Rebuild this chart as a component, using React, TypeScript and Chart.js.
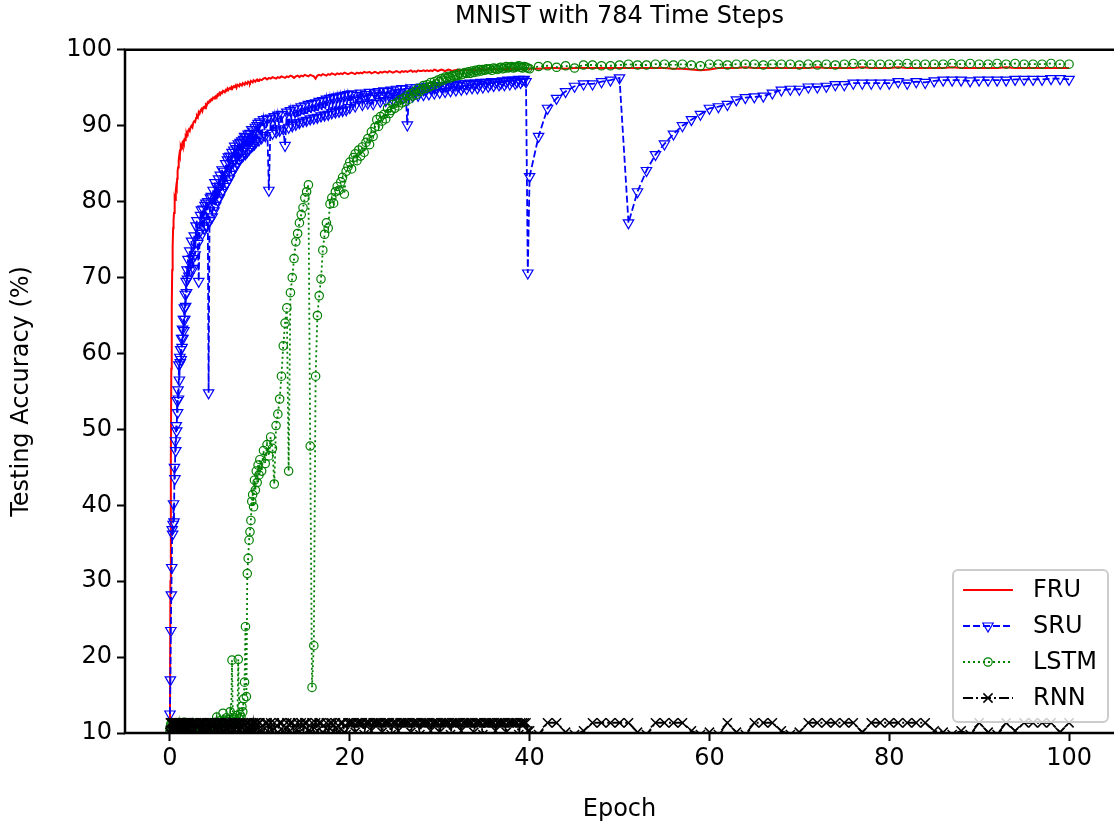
import React, { useEffect, useRef } from "react";
import { Chart, registerables } from "chart.js";

Chart.register(...registerables);

const chartTitle = "MNIST with 784 Time Steps";
const xAxisLabel = "Epoch";
const yAxisLabel = "Testing Accuracy (%)";
const xTickValues = [0, 20, 40, 60, 80, 100];
const yTickValues = [10, 20, 30, 40, 50, 60, 70, 80, 90, 100];
const seriesNames = ["FRU", "SRU", "LSTM", "RNN"];

// evaluation schedule: [first epoch, number of evaluations, epochs between evaluations]
const evalSchedule: number[][] = [
  [0, 40, 0.05],
  [2, 80, 0.1],
  [10, 50, 0.2],
  [20, 100, 0.2],
  [40, 61, 1],
];

const fruAcc = [
  // 0 - 1.95
  11.0, 30.0, 46.0, 58.0, 66.0, 71.0, 74.0, 76.5, 77.5, 78.5,
  79.5, 80.5, 80.2, 81.5, 82.0, 81.8, 83.0, 84.0, 84.5, 85.3,
  85.5, 86.2, 86.0, 86.8, 87.2, 87.0, 87.4, 87.6, 87.3, 87.9,
  88.0, 87.8, 88.2, 88.4, 88.1, 88.6, 88.5, 88.9, 88.7, 89.0,
  // 2 - 9.9
  89.2, 89.5, 89.3, 89.8, 90.0, 89.8, 90.4, 90.6, 90.5, 91.0,
  91.3, 91.1, 91.8, 91.6, 92.0, 92.2, 91.9, 92.4, 92.5, 92.3,
  92.8, 92.7, 93.1, 93.0, 93.3, 93.2, 93.5, 93.4, 93.7, 93.6,
  93.8, 93.9, 93.7, 94.1, 94.0, 94.3, 94.1, 94.4, 94.3, 94.6,
  94.5, 94.4, 94.7, 94.6, 94.9, 94.7, 94.9, 95.0, 94.8, 95.1,
  95.0, 95.2, 95.1, 95.3, 95.0, 95.4, 95.3, 95.2, 95.5, 95.4,
  95.3, 95.6, 95.5, 95.4, 95.7, 95.6, 95.5, 95.8, 95.7, 95.6,
  95.9, 95.8, 95.7, 96.0, 95.9, 95.8, 96.0, 96.1, 95.9, 96.0,
  // 10 - 19.8
  96.1, 96.0, 96.2, 96.3, 96.1, 96.3, 96.2, 96.4, 96.3, 96.2,
  96.4, 96.3, 96.5, 96.4, 96.3, 96.5, 96.4, 96.6, 96.5, 96.3,
  96.5, 96.6, 96.4, 96.6, 96.5, 96.7, 96.6, 96.5, 96.7, 96.6,
  96.5, 96.2, 96.6, 96.7, 96.6, 96.8, 96.7, 96.6, 96.8, 96.7,
  96.9, 96.8, 96.7, 96.9, 96.8, 96.9, 96.8, 97.0, 96.9, 96.8,
  // 20 - 39.8
  96.9, 97.0, 96.9, 96.8, 97.0, 96.9, 97.0, 96.9, 97.1, 97.0,
  97.0, 97.1, 96.9, 97.0, 97.1, 97.0, 96.9, 97.1, 97.0, 97.1,
  97.1, 97.0, 97.2, 97.1, 97.0, 97.1, 97.2, 97.1, 97.0, 97.2,
  97.1, 97.2, 97.1, 97.2, 97.3, 97.1, 97.2, 97.1, 97.3, 97.2,
  97.2, 97.3, 97.2, 97.3, 97.2, 97.3, 97.2, 97.4, 97.3, 97.2,
  97.3, 97.4, 97.3, 97.2, 97.3, 97.4, 97.3, 97.2, 97.3, 97.3,
  97.4, 97.3, 97.3, 97.4, 97.3, 97.4, 97.3, 97.4, 97.4, 97.3,
  97.3, 97.4, 97.4, 97.5, 97.4, 97.3, 97.4, 97.5, 97.4, 97.4,
  97.4, 97.5, 97.4, 97.4, 97.5, 97.4, 97.5, 97.4, 97.5, 97.4,
  97.5, 97.5, 97.4, 97.5, 97.4, 97.5, 97.5, 97.4, 97.5, 97.5,
  // 40 - 100
  97.5, 97.5, 97.6, 97.6, 97.5, 97.6, 97.6, 97.6, 97.6, 97.6,
  97.6, 97.6, 97.6, 97.6, 97.6, 97.6, 97.5, 97.5, 97.4, 97.3,
  97.4, 97.6, 97.6, 97.6, 97.7, 97.6, 97.6, 97.6, 97.6, 97.6,
  97.6, 97.6, 97.7, 97.6, 97.6, 97.6, 97.6, 97.7, 97.6, 97.6,
  97.6, 97.7, 97.6, 97.6, 97.6, 97.6, 97.6, 97.7, 97.6, 97.6,
  97.6, 97.6, 97.6, 97.7, 97.6, 97.6, 97.6, 97.6, 97.6, 97.6,
  97.6,
];

const sruAcc = [
  // 0 - 1.95
  12.5, 17.0, 23.5, 28.2, 31.8, 36.8, 36.2, 37.5, 40.2, 37.8,
  45.0, 43.5, 48.5, 47.2, 50.5, 49.8, 53.8, 52.2, 55.2, 54.0,
  58.5, 56.5, 59.5, 58.8, 60.5, 59.2, 62.0, 60.8, 63.2, 62.0,
  64.5, 63.0, 66.0, 64.5, 67.8, 66.2, 69.5, 68.0, 71.0, 69.8,
  // 2 - 9.9
  72.4, 70.2, 73.5, 71.0, 74.8, 72.5, 71.2, 75.5, 73.0, 76.8,
  77.5, 74.5, 69.5, 76.0, 78.2, 78.9, 75.8, 79.0, 76.5, 79.5,
  79.8, 76.8, 80.0, 54.8, 77.5, 80.5, 80.7, 78.0, 81.5, 78.8,
  82.5, 79.5, 82.0, 80.2, 83.0, 80.5, 83.5, 81.2, 84.2, 81.5,
  84.0, 82.0, 85.0, 82.4, 85.5, 85.9, 83.0, 86.0, 83.6, 86.5,
  84.2, 86.8, 87.3, 84.6, 87.0, 85.0, 87.6, 85.5, 87.8, 85.8,
  88.0, 86.0, 88.2, 88.6, 86.3, 88.5, 86.6, 88.9, 86.9, 89.0,
  87.2, 89.5, 87.4, 89.3, 87.6, 89.8, 87.9, 90.0, 90.3, 88.1,
  // 10 - 19.8
  90.5, 88.4, 90.8, 88.7, 90.9, 81.5, 91.0, 89.0, 91.2, 89.2,
  91.4, 89.4, 91.5, 89.6, 87.4, 91.8, 89.8, 92.0, 90.0, 92.2,
  90.2, 92.3, 90.4, 92.5, 90.6, 92.6, 90.7, 92.8, 90.9, 92.9,
  91.0, 93.0, 91.1, 93.2, 91.3, 93.3, 91.4, 93.5, 91.5, 93.6,
  91.7, 93.7, 91.8, 93.8, 91.9, 93.9, 92.0, 94.0, 92.1, 94.1,
  // 20 - 39.8
  92.4, 94.2, 93.3, 92.6, 94.0, 93.5, 94.3, 92.8, 93.8, 94.1,
  93.0, 94.4, 93.6, 92.9, 94.3, 93.9, 94.5, 93.2, 94.0, 94.6,
  93.3, 94.5, 93.9, 94.7, 93.4, 94.2, 94.8, 93.6, 94.4, 94.9,
  93.7, 94.8, 90.1, 94.5, 95.0, 93.9, 94.6, 95.0, 94.0, 94.8,
  95.1, 94.1, 94.7, 95.2, 94.2, 94.9, 95.2, 94.3, 95.0, 95.3,
  94.4, 95.1, 95.3, 94.5, 95.2, 95.4, 94.6, 95.1, 95.4, 94.7,
  95.3, 95.5, 94.8, 95.2, 95.5, 94.9, 95.4, 95.6, 95.0, 95.5,
  95.6, 95.0, 95.4, 95.7, 95.1, 95.6, 95.7, 95.2, 95.5, 95.8,
  95.3, 95.7, 95.8, 95.4, 95.6, 95.9, 95.4, 95.8, 96.0, 95.5,
  95.9, 96.0, 95.6, 95.8, 96.1, 95.7, 96.0, 96.1, 95.8, 70.6,
  // 40 - 100
  83.3, 88.6, 92.3, 93.6, 94.5, 95.2, 95.5, 95.5, 95.8, 96.0,
  96.3, 77.2, 81.3, 84.1, 86.2, 87.6, 88.9, 90.0, 90.8, 91.5,
  92.3, 92.5, 92.8, 93.4, 93.7, 93.8, 93.9, 94.3, 94.7, 94.8,
  94.8, 95.1, 95.1, 95.2, 95.4, 95.4, 95.6, 95.6, 95.6, 95.6,
  95.6, 95.8, 95.6, 95.8, 95.7, 95.9, 96.0, 96.0, 96.0, 95.9,
  96.0, 96.0, 96.0, 96.0, 96.1, 96.1, 96.1, 96.1, 96.2, 96.2,
  96.1,
];

const lstmAcc = [
  // 0 - 1.95
  10.3, 10.9, 11.2, 10.1, 10.6, 11.3, 10.2, 10.8, 11.1, 10.4,
  10.7, 11.3, 10.2, 10.9, 11.2, 10.5, 10.1, 11.0, 11.3, 10.6,
  10.9, 11.3, 10.4, 11.1, 10.8, 11.3, 10.6, 11.2, 10.9, 11.3,
  10.5, 11.0, 11.4, 10.7, 11.2, 10.4, 11.3, 10.8, 11.1, 10.6,
  // 2 - 9.9
  10.3, 10.9, 11.2, 10.1, 10.6, 11.3, 10.2, 10.8, 11.1, 10.4,
  10.7, 11.3, 10.2, 10.9, 11.2, 10.5, 10.1, 11.0, 11.3, 10.6,
  10.9, 11.3, 10.4, 11.1, 10.8, 11.3, 10.6, 11.2, 10.9, 11.3,
  11.0, 11.4, 12.1, 11.2, 10.8, 11.3, 11.6, 11.0, 11.4, 12.6,
  11.3, 11.7, 11.1, 12.0, 11.5, 11.2, 11.8, 12.8, 11.4, 19.6,
  11.2, 11.8, 12.0, 11.5, 12.3, 11.6, 19.7, 11.9, 12.4, 12.1,
  13.5, 12.8, 14.5, 16.7, 24.0, 14.8, 31.0, 33.0, 35.4, 36.5,
  38.0, 40.5, 41.4, 39.8, 43.3, 42.0, 44.5, 43.0, 45.3, 44.0,
  // 10 - 19.8
  46.0, 44.5, 47.2, 45.5, 48.0, 46.5, 49.0, 47.5, 42.8, 50.5,
  52.0, 54.0, 57.0, 61.0, 64.0, 66.0, 44.5, 68.0, 70.0, 72.5,
  74.7, 75.8, 77.2, 78.3, 79.2, 80.5, 81.3, 82.2, 47.8, 16.0,
  21.5, 57.0, 65.0, 67.6, 69.8, 73.6, 75.7, 77.2, 76.5, 79.7,
  80.5, 79.8, 81.3, 82.0, 81.5, 82.6, 83.2, 81.0, 84.0, 84.6,
  // 20 - 39.8
  85.2, 84.3, 85.8, 86.3, 85.4, 86.8, 86.0, 87.2, 86.5, 87.8,
  88.3, 87.5, 89.2, 88.6, 89.8, 90.8, 89.9, 91.2, 90.6, 91.5,
  90.9, 92.3, 91.6, 92.0, 92.8, 92.3, 93.0, 92.6, 93.4, 93.0,
  93.6, 93.2, 94.0, 93.5, 94.2, 93.9, 94.5, 94.1, 94.9, 94.5,
  94.8, 95.3, 94.9, 95.4, 95.1, 95.7, 95.3, 95.8, 95.5, 96.0,
  95.8, 96.2, 96.0, 96.4, 96.2, 96.5, 96.3, 96.6, 96.5, 96.7,
  96.6, 96.9, 96.7, 96.8, 97.0, 96.9, 97.1, 96.9, 97.2, 97.0,
  97.3, 97.1, 97.4, 97.2, 97.4, 97.3, 97.5, 97.4, 97.5, 97.3,
  97.6, 97.5, 97.4, 97.6, 97.7, 97.5, 97.6, 97.8, 97.6, 97.7,
  97.8, 97.6, 97.7, 97.8, 97.9, 97.7, 97.6, 97.8, 97.7, 97.6,
  // 40 - 100
  97.5, 97.8, 97.9, 97.7, 97.9, 97.6, 98.0, 98.0, 97.9, 97.9,
  98.0, 98.1, 98.0, 98.0, 98.1, 98.1, 98.0, 98.1, 98.0, 97.9,
  98.1, 98.1, 98.0, 98.1, 98.1, 98.1, 98.0, 98.1, 98.1, 98.1,
  98.0, 98.1, 98.0, 98.1, 98.0, 98.1, 98.2, 98.1, 98.1, 98.1,
  98.1, 98.1, 98.2, 98.1, 98.1, 98.1, 98.1, 98.2, 98.1, 98.2,
  98.1, 98.1, 98.2, 98.1, 98.2, 98.1, 98.1, 98.1, 98.2, 98.1,
  98.1,
];

const rnnAcc = [
  // 0 - 1.95
  10.1, 11.35, 9.8, 11.35, 10.28, 11.35, 11.35, 9.8, 10.1, 11.35,
  10.32, 11.35, 9.8, 10.28, 11.35, 11.35, 10.1, 9.8, 11.35, 10.28,
  11.35, 9.8, 11.35, 10.1, 11.35, 10.28, 9.8, 11.35, 11.35, 10.1,
  9.8, 11.35, 10.28, 11.35, 10.1, 11.35, 9.8, 11.35, 10.32, 11.35,
  // 2 - 9.9
  10.28, 11.35, 11.35, 9.8, 10.1, 11.35, 10.28, 11.35, 9.8, 11.35,
  11.35, 10.1, 9.8, 11.35, 10.28, 11.35, 11.35, 10.1, 11.35, 9.8,
  10.28, 11.35, 10.1, 11.35, 11.35, 9.8, 11.35, 10.28, 10.1, 11.35,
  11.35, 9.8, 10.28, 11.35, 10.1, 11.35, 11.35, 9.8, 11.35, 10.28,
  10.1, 11.35, 9.8, 11.35, 11.35, 10.28, 11.35, 10.1, 9.8, 11.35,
  11.35, 10.28, 11.35, 9.8, 10.1, 11.35, 11.35, 10.28, 11.35, 9.8,
  10.1, 11.35, 11.35, 10.28, 9.8, 11.35, 10.1, 11.35, 11.35, 10.28,
  9.8, 11.35, 10.1, 11.35, 10.28, 11.35, 11.35, 9.8, 10.1, 11.35,
  // 10 - 19.8
  11.35, 10.28, 9.8, 11.35, 11.35, 10.1, 11.35, 10.28, 11.35, 9.8,
  10.1, 11.35, 11.35, 10.28, 9.8, 11.35, 10.1, 11.35, 11.35, 9.8,
  10.28, 11.35, 10.1, 11.35, 9.8, 11.35, 11.35, 10.28, 10.1, 11.35,
  9.8, 11.35, 10.28, 11.35, 11.35, 10.1, 9.8, 11.35, 10.28, 11.35,
  11.35, 10.1, 11.35, 9.8, 10.28, 11.35, 11.35, 10.1, 9.8, 11.35,
  // 20 - 39.8
  11.35, 11.35, 11.35, 10.1, 11.35, 11.35, 11.35, 11.35, 9.8, 11.35,
  11.35, 11.35, 10.28, 11.35, 11.35, 11.35, 11.35, 11.35, 10.1, 11.35,
  11.35, 11.35, 11.35, 9.8, 11.35, 11.35, 11.35, 10.28, 11.35, 11.35,
  11.35, 11.35, 11.35, 11.35, 10.1, 11.35, 11.35, 11.35, 11.35, 9.8,
  11.35, 11.35, 11.35, 11.35, 11.35, 10.28, 11.35, 11.35, 11.35, 11.35,
  10.1, 11.35, 11.35, 11.35, 11.35, 11.35, 9.8, 11.35, 11.35, 11.35,
  11.35, 11.35, 10.28, 11.35, 11.35, 11.35, 11.35, 11.35, 11.35, 10.1,
  11.35, 11.35, 11.35, 11.35, 9.8, 11.35, 11.35, 11.35, 11.35, 11.35,
  11.35, 10.28, 11.35, 11.35, 11.35, 11.35, 11.35, 10.1, 11.35, 11.35,
  11.35, 11.35, 11.35, 11.35, 9.8, 11.35, 11.35, 11.35, 11.35, 10.28,
  // 40 - 100
  10.28, 9.8, 11.35, 11.35, 10.1, 9.8, 10.28, 11.35, 11.35, 11.35,
  11.35, 11.35, 10.1, 9.8, 11.35, 11.35, 11.35, 11.35, 10.28, 9.8,
  10.1, 9.8, 11.35, 10.1, 9.8, 11.35, 11.35, 11.35, 10.28, 9.8,
  10.1, 11.35, 11.35, 11.35, 11.35, 11.35, 11.35, 10.1, 11.35, 11.35,
  11.35, 11.35, 11.35, 11.35, 11.35, 10.28, 10.1, 9.8, 10.28, 9.8,
  11.35, 10.1, 9.8, 11.35, 10.28, 11.35, 11.35, 11.35, 11.35, 10.1,
  11.35,
];

const seriesColors = ["#ff0000", "#0000ff", "#008000", "#000000"];
const seriesDashes: number[][] = [[], [7, 3], [2, 3], [10, 3, 2, 3]];
const seriesMarkers = ["none", "triangleDown", "circle", "cross"];
const markerSizes = [0, 6, 4.2, 6.5];
const markerWidths = [0, 1.2, 1.2, 1.5];

const FONT = "DejaVu Sans";
const FS = 24;

function drawMarker(ctx: CanvasRenderingContext2D, kind: string, cx: number, cy: number, r: number) {
  ctx.beginPath();
  if (kind === "triangleDown") {
    ctx.moveTo(cx, cy + r);
    ctx.lineTo(cx - r * 0.866, cy - r * 0.5);
    ctx.lineTo(cx + r * 0.866, cy - r * 0.5);
    ctx.closePath();
  } else if (kind === "circle") {
    ctx.arc(cx, cy, r, 0, Math.PI * 2);
  } else if (kind === "cross") {
    const d = r * 0.7071;
    ctx.moveTo(cx - d, cy - d);
    ctx.lineTo(cx + d, cy + d);
    ctx.moveTo(cx + d, cy - d);
    ctx.lineTo(cx - d, cy + d);
  }
  ctx.stroke();
}

const spinesPlugin = {
  id: "spines",
  afterDatasetsDraw(chart: any) {
    const { ctx, chartArea } = chart;
    ctx.save();
    ctx.strokeStyle = "#000";
    ctx.lineWidth = 2.5;
    ctx.lineCap = "square";
    ctx.beginPath();
    ctx.moveTo(chartArea.left, chartArea.top);
    ctx.lineTo(chartArea.left, chartArea.bottom);
    ctx.lineTo(chartArea.right, chartArea.bottom);
    ctx.moveTo(chartArea.left, chartArea.top);
    ctx.lineTo(chartArea.right, chartArea.top);
    ctx.stroke();
    ctx.restore();
  },
};

const legendPlugin = {
  id: "mplLegend",
  afterDraw(chart: any) {
    const { ctx, chartArea } = chart;
    const w = 155;
    const h = 152;
    const x0 = chartArea.right - 6 - w;
    const y0 = chartArea.bottom - 11 - h;
    ctx.save();
    ctx.beginPath();
    ctx.roundRect(x0, y0, w, h, 5);
    ctx.fillStyle = "rgba(255,255,255,0.8)";
    ctx.fill();
    ctx.strokeStyle = "#cccccc";
    ctx.lineWidth = 2;
    ctx.stroke();
    seriesNames.forEach((name, i) => {
      const cy = y0 + 20 + i * 36;
      ctx.strokeStyle = seriesColors[i];
      ctx.lineWidth = i === 0 ? 2 : 1.8;
      ctx.setLineDash(seriesDashes[i]);
      ctx.beginPath();
      ctx.moveTo(x0 + 10, cy);
      ctx.lineTo(x0 + 60, cy);
      ctx.stroke();
      ctx.setLineDash([]);
      if (seriesMarkers[i] !== "none") {
        ctx.lineWidth = markerWidths[i];
        drawMarker(ctx, seriesMarkers[i], x0 + 35, cy, markerSizes[i]);
      }
      ctx.fillStyle = "#000";
      ctx.font = `${FS}px "${FONT}"`;
      ctx.textAlign = "left";
      ctx.textBaseline = "middle";
      ctx.fillText(name, x0 + 80, cy + 1);
    });
    ctx.restore();
  },
};

const chartPointStyles: any[] = [false, "triangle", "circle", "crossRot"];

export default function App() {
  const canvasRef = useRef<HTMLCanvasElement>(null);

  useEffect(() => {
    const canvas = canvasRef.current;
    if (!canvas) return;
    const epochs = evalSchedule.flatMap(([s, n, d]) =>
      Array.from({ length: n }, (_, i) => Math.round((s + i * d) * 100) / 100)
    );
    const seriesValues = [fruAcc, sruAcc, lstmAcc, rnnAcc];
    Chart.defaults.font.family = FONT;
    Chart.defaults.color = "#000";

    const datasets = seriesNames.map((name, i) => ({
      label: name,
      data: epochs.map((x, k) => ({ x, y: seriesValues[i][k] })),
      borderColor: seriesColors[i],
      borderWidth: i === 0 ? 2 : 1.8,
      borderDash: seriesDashes[i],
      pointStyle: chartPointStyles[i],
      pointRadius: markerSizes[i],
      pointRotation: i === 1 ? 180 : 0,
      pointBorderColor: seriesColors[i],
      pointBackgroundColor: "rgba(0,0,0,0)",
      pointBorderWidth: markerWidths[i],
      pointHoverRadius: markerSizes[i],
      fill: false,
      tension: 0,
      clip: 0,
      order: 3 - i,
    }));

    const gridOpts = {
      display: true,
      drawOnChartArea: false,
      drawTicks: true,
      tickLength: 8,
      tickWidth: 2,
      tickColor: "#000",
    };

    const chart = new Chart(canvas, {
      type: "line",
      data: { datasets: datasets as any },
      options: {
        responsive: false,
        animation: false,
        devicePixelRatio: 1,
        layout: { autoPadding: false, padding: { left: 0, right: 0, top: 0, bottom: 0 } },
        plugins: {
          legend: { display: false },
          tooltip: { enabled: false },
          title: {
            display: true,
            fullSize: false,
            text: chartTitle,
            color: "#000",
            font: { family: FONT, size: FS, weight: "normal" as any },
            padding: { top: 2, bottom: 19 },
          },
        },
        scales: {
          x: {
            type: "linear",
            min: -5,
            max: 105,
            afterBuildTicks: (s: any) => {
              s.ticks = xTickValues.map((v) => ({ value: v }));
            },
            afterFit: (s: any) => {
              s.height = 94;
              s.paddingLeft = 0;
              s.paddingRight = 0;
            },
            grid: gridOpts as any,
            border: { display: false },
            ticks: { color: "#000", font: { family: FONT, size: FS }, padding: 3, maxRotation: 0, autoSkip: false },
            title: {
              display: true,
              text: xAxisLabel,
              color: "#000",
              font: { family: FONT, size: FS },
              padding: { top: 0, bottom: 3 },
            },
          },
          y: {
            type: "linear",
            min: 10,
            max: 100,
            afterBuildTicks: (s: any) => {
              s.ticks = yTickValues.map((v) => ({ value: v }));
            },
            afterFit: (s: any) => {
              s.width = 125;
            },
            grid: gridOpts as any,
            border: { display: false },
            ticks: { color: "#000", font: { family: FONT, size: FS }, padding: 5, autoSkip: false },
            title: {
              display: true,
              text: yAxisLabel,
              color: "#000",
              font: { family: FONT, size: FS },
              padding: { top: 7, bottom: 0 },
            },
          },
        },
      },
      plugins: [spinesPlugin, legendPlugin],
    });

    return () => chart.destroy();
  }, []);

  return (
    <div style={{ position: "fixed", left: 0, top: 0, width: 1114, height: 827, background: "#fff" }}>
      <canvas ref={canvasRef} width={1114} height={827} style={{ display: "block", width: 1114, height: 827 }} />
    </div>
  );
}
